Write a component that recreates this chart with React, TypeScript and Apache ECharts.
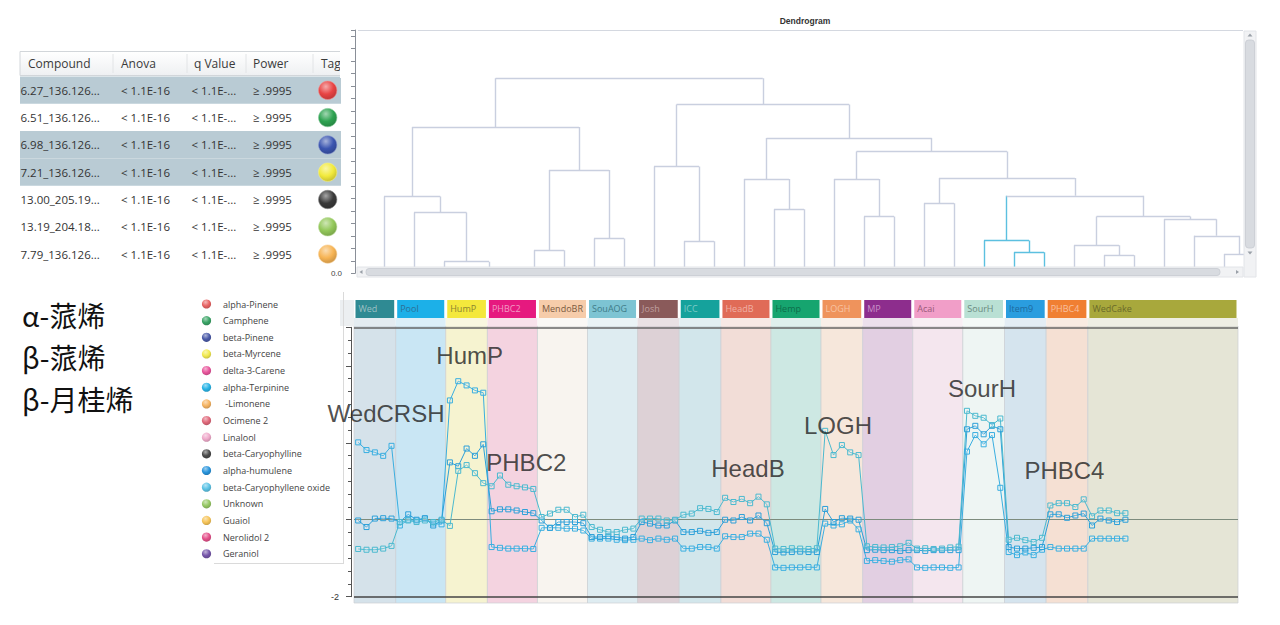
import React, { useEffect, useRef } from 'react';
import * as echarts from 'echarts';

// ---------------- Table data ----------------
const tableHeaders = ['Compound', 'Anova', 'q Value', 'Power', 'Tag'];
const compounds = ['6.27_136.126...', '6.51_136.126...', '6.98_136.126...', '7.21_136.126...', '13.00_205.19...', '13.19_204.18...', '7.79_136.126...'];
const anovaValues = ['< 1.1E-16', '< 1.1E-16', '< 1.1E-16', '< 1.1E-16', '< 1.1E-16', '< 1.1E-16', '< 1.1E-16'];
const qValues = ['< 1.1E-...', '< 1.1E-...', '< 1.1E-...', '< 1.1E-...', '< 1.1E-...', '< 1.1E-...', '< 1.1E-...'];
const powerValues = ['≥ .9995', '≥ .9995', '≥ .9995', '≥ .9995', '≥ .9995', '≥ .9995', '≥ .9995'];
const selectedRows = [true, false, true, true, false, false, false];
const tagColors = ['#e84444', '#2ea351', '#3b55b0', '#f2ea3c', '#3a3a3a', '#93c85a', '#f7b454'];

// ---------------- Legend data ----------------
const legendNames = ['alpha-Pinene', 'Camphene', 'beta-Pinene', 'beta-Myrcene', 'delta-3-Carene', 'alpha-Terpinine', ' -Limonene', 'Ocimene 2', 'Linalool', 'beta-Caryophylline', 'alpha-humulene', 'beta-Caryophyllene oxide', 'Unknown', 'Guaiol', 'Nerolidol 2', 'Geraniol'];
const legendColors = ['#e86464', '#3aa466', '#4a5aa8', '#f2ea50', '#e8559c', '#28b4e6', '#f6b462', '#e0687a', '#f0aacb', '#4a4a4a', '#2894dc', '#5cc4e6', '#96c864', '#f6c458', '#e4508a', '#7656aa'];
const chineseLabels = ['α-蒎烯', 'β-蒎烯', 'β-月桂烯'];

// ---------------- Dendrogram data ----------------
const leafPos = [0, 1, 2, 3.5, 5, 6, 7, 8, 9, 10, 11, 12, 13, 14, 15, 16, 17, 18, 19, 20, 21, 22, 23, 24, 25, 26, 27, 28, 29];
// [left child, right child, height]; child >= 0 is a leaf, child < 0 is merge (-1 - k)
const merges: number[][] = [
  [2, 3, 0.93], [1, -1, 4.87], [0, -2, 6.15], [4, 5, 1.85], [6, 7, 2.78],
  [-4, -5, 8.27], [-3, -6, 11.73], [9, 10, 2.57], [8, -8, 8.56], [12, 13, 5.14],
  [11, -10, 7.55], [15, 16, 4.55], [14, -12, 7.55], [17, 18, 5.62], [20, 21, 1.69],
  [19, -15, 2.62], [23, 24, 1.45], [22, -17, 2.25], [27, 28, 1.55], [26, -19, 3.0],
  [25, -20, 4.34], [-18, -21, 4.55], [-16, -22, 6.21], [-14, -23, 7.63], [-13, -24, 9.77],
  [-11, -25, 10.84], [-9, -26, 13.52], [-7, -27, 15.63],
];
const highlightedMerges = [14, 15];

// ---------------- Profile plot data ----------------
const groups = ['Wed', 'Pool', 'HumP', 'PHBC2', 'MendoBR', 'SouAOG', 'Josh', 'ICC', 'HeadB', 'Hemp', 'LOGH', 'MP', 'Acai', 'SourH', 'Item9', 'PHBC4', 'WedCake'];
const groupSlots = [5, 6, 5, 6, 6, 6, 5, 5, 6, 6, 5, 6, 6, 5, 5, 5, 18];
const groupSamples = [5, 6, 5, 6, 6, 6, 5, 5, 6, 6, 5, 6, 6, 5, 5, 5, 5];
const headerColors = ['#2f8a93', '#1cb0e8', '#f4e83c', '#e6197f', '#f6ccaa', '#7dc4d3', '#8a5a5a', '#15a29c', '#e06b57', '#16a56f', '#ef935c', '#8d2d8d', '#f19ec8', '#b9e0d4', '#2a9ddf', '#f07f32', '#a8a83c'];
const headerTextColors = ['#9cc0c4', '#2d6f96', '#8a8530', '#f29ac4', '#7a5a40', '#3d7b88', '#c0a0a0', '#7ccbc6', '#f0b0a4', '#0d6e4a', '#f8c4a4', '#c890c8', '#9a5a7a', '#6a8a80', '#1d6aa0', '#f8c0a0', '#6a6a2a'];
const bandColors = ['#d5e2ea', '#c9e6f4', '#f6f3d0', '#f4d3e0', '#f8f4ef', '#deecf1', '#ddd1d6', '#d2e6eb', '#f2ddd7', '#cde8e3', '#f6e7db', '#e2cfe2', '#f4e6ee', '#eef5f3', '#d5e4ee', '#f5e0d3', '#e5e5d6'];

const seriesNames = ['alpha-Pinene', 'beta-Pinene', 'beta-Myrcene'];
const alphaPinene = [
  2.01, 1.81, 1.75, 1.66, 1.92,
  -0.15, 0.0, -0.02, 0.03, -0.1, -0.12,
  3.1, 3.6, 3.49, 3.36, 3.3,
  -0.71, -0.73, -0.75, -0.75, -0.75, -0.76,
  -0.21, -0.21, -0.21, -0.23, -0.23, -0.28,
  -0.49, -0.49, -0.49, -0.52, -0.53, -0.52,
  -0.49, -0.53, -0.49, -0.52, -0.49,
  -0.75, -0.75, -0.71, -0.71, -0.75,
  -0.43, -0.45, -0.45, -0.36, -0.36, -0.52,
  -1.24, -1.25, -1.24, -1.24, -1.23, -1.24,
  -0.1, -0.15, -0.12, -0.02, -0.25,
  -1.07, -1.05, -1.07, -1.09, -1.05, -1.03,
  -1.24, -1.25, -1.24, -1.24, -1.25, -1.24,
  1.77, 2.2, 1.96, 2.2, 0.83,
  -0.84, -0.92, -0.85, -0.92, -0.78,
  -0.71, -0.75, -0.75, -0.75, -0.75,
  -0.49, -0.49, -0.49, -0.49, -0.49,
];
const betaPinene = [
  -0.02, -0.19, 0.03, 0.04, 0.03,
  -0.06, 0.14, 0.0, 0.04, -0.15, -0.02,
  1.49, 1.39, 1.85, 1.66, 1.96,
  0.22, 0.27, 0.27, 0.24, 0.2, 0.17,
  -0.02, -0.21, -0.06, -0.06, -0.06, -0.09,
  -0.45, -0.45, -0.43, -0.45, -0.49, -0.45,
  -0.06, -0.1, -0.15, -0.15, -0.02,
  -0.32, -0.32, -0.29, -0.34, -0.32,
  0.0, -0.02, 0.07, -0.02, 0.11, -0.09,
  -0.84, -0.85, -0.84, -0.83, -0.84, -0.84,
  0.28, -0.06, 0.04, 0.03, 0.0,
  -0.79, -0.78, -0.79, -0.79, -0.81, -0.79,
  -0.79, -0.81, -0.79, -0.79, -0.79, -0.79,
  2.35, 2.44, 2.22, 2.44, 2.35,
  -0.71, -0.75, -0.75, -0.73, -0.71,
  0.14, 0.14, 0.05, 0.11, 0.16,
  -0.15, 0.03, -0.02, -0.06, 0.0,
];
const betaMyrcene = [
  -0.76, -0.78, -0.78, -0.75, -0.68,
  -0.06, -0.02, -0.06, -0.02, -0.06, 0.0,
  -0.16, 1.27, 1.42, 1.21, 0.95,
  0.87, 1.15, 0.91, 0.87, 0.84, 0.8,
  0.07, 0.16, 0.26, 0.26, 0.07, 0.13,
  -0.19, -0.26, -0.32, -0.32, -0.26, -0.23,
  0.03, 0.03, 0.03, -0.02, 0.0,
  0.13, 0.16, 0.3, 0.28, 0.2,
  0.57, 0.46, 0.54, 0.43, 0.6, 0.4,
  -0.75, -0.76, -0.74, -0.75, -0.76, -0.74,
  2.31, 1.68, 1.94, 1.75, 1.68,
  -0.69, -0.71, -0.72, -0.71, -0.69, -0.6,
  -0.75, -0.74, -0.76, -0.75, -0.72, -0.7,
  2.83, 2.7, 2.65, 2.46, 2.63,
  -0.52, -0.47, -0.53, -0.58, -0.47,
  0.37, 0.43, 0.43, 0.33, 0.53,
  0.09, 0.24, 0.24, 0.17, 0.17,
];
const seriesColors = ['#39aee0', '#2b9fd8', '#4bb9cf'];
// [label, x (sample slots), y (value)]
const annotations: [string, number, number][] = [
  ['WedCRSH', 3.84, 2.75], ['HumP', 13.87, 4.27], ['PHBC2', 20.66, 1.48], ['HeadB', 47.24, 1.34],
  ['LOGH', 58.03, 2.46], ['SourH', 75.3, 3.42], ['PHBC4', 85.19, 1.28],
];

function mix(hex: string, target: string, t: number) {
  const p = (h: string) => [1, 3, 5].map((i) => parseInt(h.slice(i, i + 2), 16));
  const a = p(hex), b = p(target);
  return 'rgb(' + a.map((v, i) => Math.round(v + (b[i] - v) * t)).join(',') + ')';
}
function glossy(c: string) {
  return new echarts.graphic.RadialGradient(0.4, 0.3, 0.75, [
    { offset: 0, color: mix(c, '#ffffff', 0.55) },
    { offset: 0.55, color: c },
    { offset: 1, color: mix(c, '#000000', 0.2) },
  ]);
}

function buildOption() {
  // ---- dendrogram segments
  const GRAY = '#c9cfdf', BLUE = '#5cc0e0';
  const nodePos: number[] = [], nodeH: number[] = [];
  const posOf = (c: number) => (c >= 0 ? leafPos[c] : nodePos[-1 - c]);
  const hOf = (c: number) => (c >= 0 ? 0 : nodeH[-1 - c]);
  const colorOf = (k: number) => (highlightedMerges.includes(k) ? BLUE : GRAY);
  const segs: any[] = [];
  merges.forEach(([a, b, h], k) => {
    const pa = posOf(a), pb = posOf(b);
    nodePos[k] = (pa + pb) / 2;
    nodeH[k] = h;
    const ca = a < 0 ? colorOf(-1 - a) : colorOf(k);
    const cb = b < 0 ? colorOf(-1 - b) : colorOf(k);
    segs.push({ coords: [[pa, hOf(a)], [pa, h]], lineStyle: { color: ca } });
    segs.push({ coords: [[pb, hOf(b)], [pb, h]], lineStyle: { color: cb } });
    segs.push({ coords: [[pa, h], [pb, h]], lineStyle: { color: colorOf(k) } });
  });

  // ---- groups
  const starts: number[] = [];
  let acc = 0;
  groupSlots.forEach((n) => { starts.push(acc); acc += n; });
  const total = acc;
  const xs: number[] = [];
  groupSamples.forEach((n, g) => { for (let j = 0; j < n; j++) xs.push(starts[g] + j + 0.5); });
  const allSeries = [alphaPinene, betaPinene, betaMyrcene];

  const inset = 0.18;
  const headerAreas = groups.map((g, i) => [
    { name: g, xAxis: starts[i] + inset, yAxis: 0.31, itemStyle: { color: headerColors[i] }, label: { color: headerTextColors[i] } },
    { xAxis: starts[i] + groupSlots[i] - inset, yAxis: 1 },
  ]);
  const stripAreas = groups.map((g, i) => [
    { xAxis: starts[i], yAxis: 0, itemStyle: { color: mix(bandColors[i], '#ffffff', 0.35) } },
    { xAxis: starts[i] + groupSlots[i], yAxis: 0.31 },
  ]);
  const bandAreas = groups.map((g, i) => [
    { xAxis: starts[i], yAxis: 0, itemStyle: { color: bandColors[i] } },
    { xAxis: starts[i] + groupSlots[i], yAxis: 1 },
  ]);

  // ---- graphics
  const gr: any[] = [];
  // table
  gr.push({ type: 'rect', z: 1, shape: { x: 20, y: 51.5, width: 321, height: 24 },
    style: { fill: new echarts.graphic.LinearGradient(0, 0, 0, 1, [{ offset: 0, color: '#ffffff' }, { offset: 1, color: '#eef0f2' }]), stroke: '#d2d6da', lineWidth: 1 } });
  [113, 187, 246, 313].forEach((x) => gr.push({ type: 'line', z: 2, shape: { x1: x, y1: 54, x2: x, y2: 73 }, style: { stroke: '#e2e4e6', lineWidth: 1 } }));
  const headX = [28, 121, 194, 253, 321];
  tableHeaders.forEach((t, i) => gr.push({ type: 'text', z: 3, x: headX[i], y: 63.5,
    style: { text: t, fill: '#3a3a3a', fontSize: 12, fontFamily: 'Open Sans', verticalAlign: 'middle', align: 'left' } }));
  const rowX = [20.5, 121, 191.5, 253];
  compounds.forEach((c, i) => {
    const top = 76.5 + 27.3 * i;
    if (selectedRows[i]) gr.push({ type: 'rect', z: 1, shape: { x: 20, y: top, width: 321, height: 27.3 }, style: { fill: '#b9cbd4' } });
    const vals = [c, anovaValues[i], qValues[i], powerValues[i]];
    vals.forEach((v, j) => gr.push({ type: 'text', z: 3, x: rowX[j], y: top + 13.8,
      style: { text: v, fill: '#333', fontSize: 11.5, fontFamily: 'Open Sans', verticalAlign: 'middle', align: 'left' } }));
    gr.push({ type: 'circle', z: 3, shape: { cx: 327.7, cy: top + 13.8, r: 9.2 }, style: { fill: glossy(tagColors[i]), stroke: mix(tagColors[i], '#ffffff', 0.4), lineWidth: 0.6 } });
  });
  gr.push({ type: 'rect', z: 4, shape: { x: 340, y: 48, width: 11, height: 30 }, style: { fill: '#ffffff' } });

  // dendrogram decorations
  gr.push({ type: 'text', z: 5, x: 805, y: 21, style: { text: 'Dendrogram', fill: '#333', fontSize: 8.5, fontWeight: 'bold', fontFamily: 'Liberation Sans', align: 'center', verticalAlign: 'middle' } });
  gr.push({ type: 'line', z: 5, shape: { x1: 358, y1: 30.5, x2: 1243, y2: 30.5 }, style: { stroke: '#d4d8e0', lineWidth: 1 } });
  // vertical scrollbar
  gr.push({ type: 'rect', z: 50, shape: { x: 1244, y: 31, width: 12, height: 246 }, style: { fill: '#f1f2f4', stroke: '#e2e4e8', lineWidth: 1 } });
  gr.push({ type: 'rect', z: 51, shape: { x: 1245.5, y: 40, width: 9, height: 208, r: 3 }, style: { fill: '#d8dbe0', stroke: '#c6cad0', lineWidth: 0.8 } });
  gr.push({ type: 'polygon', z: 52, shape: { points: [[1247.5, 36.5], [1252.5, 36.5], [1250, 33.5]] }, style: { fill: '#9aa0a8' } });
  gr.push({ type: 'polygon', z: 52, shape: { points: [[1247.5, 251.5], [1252.5, 251.5], [1250, 254.5]] }, style: { fill: '#9aa0a8' } });
  // horizontal scrollbar
  gr.push({ type: 'rect', z: 50, shape: { x: 357, y: 267, width: 886, height: 10 }, style: { fill: '#f1f2f4', stroke: '#e2e4e8', lineWidth: 1 } });
  gr.push({ type: 'rect', z: 51, shape: { x: 366, y: 268.5, width: 854, height: 7, r: 3 }, style: { fill: '#d8dbe0', stroke: '#c6cad0', lineWidth: 0.8 } });
  gr.push({ type: 'polygon', z: 52, shape: { points: [[362.5, 270], [362.5, 274], [359.5, 272]] }, style: { fill: '#9aa0a8' } });
  gr.push({ type: 'polygon', z: 52, shape: { points: [[1236, 270], [1236, 274], [1239, 272]] }, style: { fill: '#9aa0a8' } });

  // legend panel
  gr.push({ type: 'rect', z: 1, shape: { x: 196, y: 292, width: 148, height: 272 }, style: { fill: '#ffffff' } });
  gr.push({ type: 'line', z: 2, shape: { x1: 343.5, y1: 292, x2: 343.5, y2: 564 }, style: { stroke: '#dadada', lineWidth: 1 } });
  gr.push({ type: 'line', z: 2, shape: { x1: 214, y1: 563.5, x2: 343.5, y2: 563.5 }, style: { stroke: '#dadada', lineWidth: 1 } });
  legendNames.forEach((n, i) => {
    const cy = 304 + 16.65 * i;
    gr.push({ type: 'circle', z: 3, shape: { cx: 206.5, cy, r: 4.6 }, style: { fill: glossy(legendColors[i]) } });
    gr.push({ type: 'text', z: 3, x: 223, y: cy, style: { text: n, fill: '#444', fontSize: 9, fontFamily: 'Open Sans', verticalAlign: 'middle', align: 'left' } });
  });
  // Chinese labels
  chineseLabels.forEach((t, i) => gr.push({ type: 'text', z: 3, x: 22, y: 315 + 42 * i,
    style: { text: t, fill: '#111', fontSize: 28, fontFamily: 'Noto Sans CJK SC', verticalAlign: 'middle', align: 'left' } }));
  // header left corner
  gr.push({ type: 'rect', z: 1, shape: { x: 340, y: 300, width: 14, height: 26 }, style: { fill: '#eceff1' } });

  const lineSeries = allSeries.map((vals, s) => ({
    name: seriesNames[s], type: 'line', xAxisIndex: 1, yAxisIndex: 1, z: 5,
    data: vals.map((v, i) => [xs[i], v]),
    symbol: 'rect', symbolSize: 5,
    lineStyle: { width: 1, color: seriesColors[s] },
    itemStyle: { color: 'rgba(255,255,255,0.15)', borderColor: seriesColors[s], borderWidth: 1 },
  }));

  return {
    animation: false,
    backgroundColor: '#ffffff',
    grid: [
      { left: 355, top: 30, width: 888, height: 243.3 },
      { left: 354, top: 327.3, width: 884, height: 269.4 },
      { left: 354, top: 326, width: 884, height: 277 },
      { left: 354, top: 300, width: 884, height: 26 },
    ],
    xAxis: [
      { gridIndex: 0, type: 'value', min: -0.967, max: 28.633, show: false },
      { gridIndex: 1, type: 'value', min: 0, max: total, show: false },
      { gridIndex: 2, type: 'value', min: 0, max: total, show: false },
      { gridIndex: 3, type: 'value', min: 0, max: total, show: false },
    ],
    yAxis: [
      { gridIndex: 0, type: 'value', min: 0, max: 19.5, interval: 1,
        axisLine: { show: true, onZero: false, lineStyle: { color: '#8a8f98' } },
        axisTick: { show: true, length: 4, lineStyle: { color: '#8a8f98' } },
        axisLabel: { formatter: (v: number) => (v === 0 ? '0.0' : ''), fontSize: 8, color: '#444', margin: 13 },
        splitLine: { show: false } },
      { gridIndex: 1, type: 'value', min: -2, max: 5, interval: 2, offset: 3,
        axisLine: { show: true, onZero: false, lineStyle: { color: '#555' } },
        axisTick: { show: true, length: 5, lineStyle: { color: '#555' } },
        minorTick: { show: true, splitNumber: 6, length: 3, lineStyle: { color: '#555' } },
        axisLabel: { formatter: (v: number) => (v === -2 ? '-2' : ''), fontSize: 9, color: '#333', margin: 12 },
        splitLine: { show: false } },
      { gridIndex: 2, type: 'value', min: 0, max: 1, show: false },
      { gridIndex: 3, type: 'value', min: 0, max: 1, show: false },
    ],
    series: [
      { type: 'lines', coordinateSystem: 'cartesian2d', xAxisIndex: 0, yAxisIndex: 0, z: 3, silent: true,
        data: segs, lineStyle: { width: 1.4, opacity: 1 } },
      { type: 'line', xAxisIndex: 2, yAxisIndex: 2, data: [], z: 1, silent: true,
        markArea: { silent: true, itemStyle: { borderColor: 'rgba(205,208,212,0.9)', borderWidth: 0.8 }, data: bandAreas } },
      { type: 'line', xAxisIndex: 3, yAxisIndex: 3, data: [], z: 1, silent: true,
        markArea: { silent: true, data: stripAreas } },
      { type: 'line', xAxisIndex: 3, yAxisIndex: 3, data: [], z: 2, silent: true,
        markArea: { silent: true, label: { show: true, position: 'insideLeft', fontSize: 9, fontFamily: 'Open Sans', distance: 3 }, data: headerAreas } },
      { type: 'line', xAxisIndex: 1, yAxisIndex: 1, data: [], z: 2, silent: true, clip: false,
        markLine: { silent: true, symbol: ['none', 'none'], label: { show: false },
          data: [
            { yAxis: 0, lineStyle: { color: '#7d8b7d', width: 1, type: 'solid' } },
            { yAxis: 5, lineStyle: { color: '#666', width: 1.5, type: 'solid' } },
            { yAxis: -2, lineStyle: { color: '#444', width: 1.5, type: 'solid' } },
          ] } },
      ...lineSeries,
      { type: 'scatter', xAxisIndex: 1, yAxisIndex: 1, z: 10, silent: true, symbolSize: 1,
        itemStyle: { color: 'rgba(0,0,0,0)' },
        data: annotations.map((a) => [a[1], a[2], a[0]]),
        label: { show: true, position: 'inside', formatter: (p: any) => p.value[2], fontSize: 24, color: '#222', fontFamily: 'Liberation Sans' } },
    ],
    graphic: { elements: gr },
  };
}

export default function App() {
  const ref = useRef<HTMLDivElement>(null);
  useEffect(() => {
    const chart = echarts.init(ref.current!, null, { renderer: 'svg' });
    chart.setOption(buildOption() as any);
    return () => chart.dispose();
  }, []);
  return <div ref={ref} style={{ position: 'fixed', left: 0, top: 0, width: 1280, height: 625, background: '#fff' }} />;
}
